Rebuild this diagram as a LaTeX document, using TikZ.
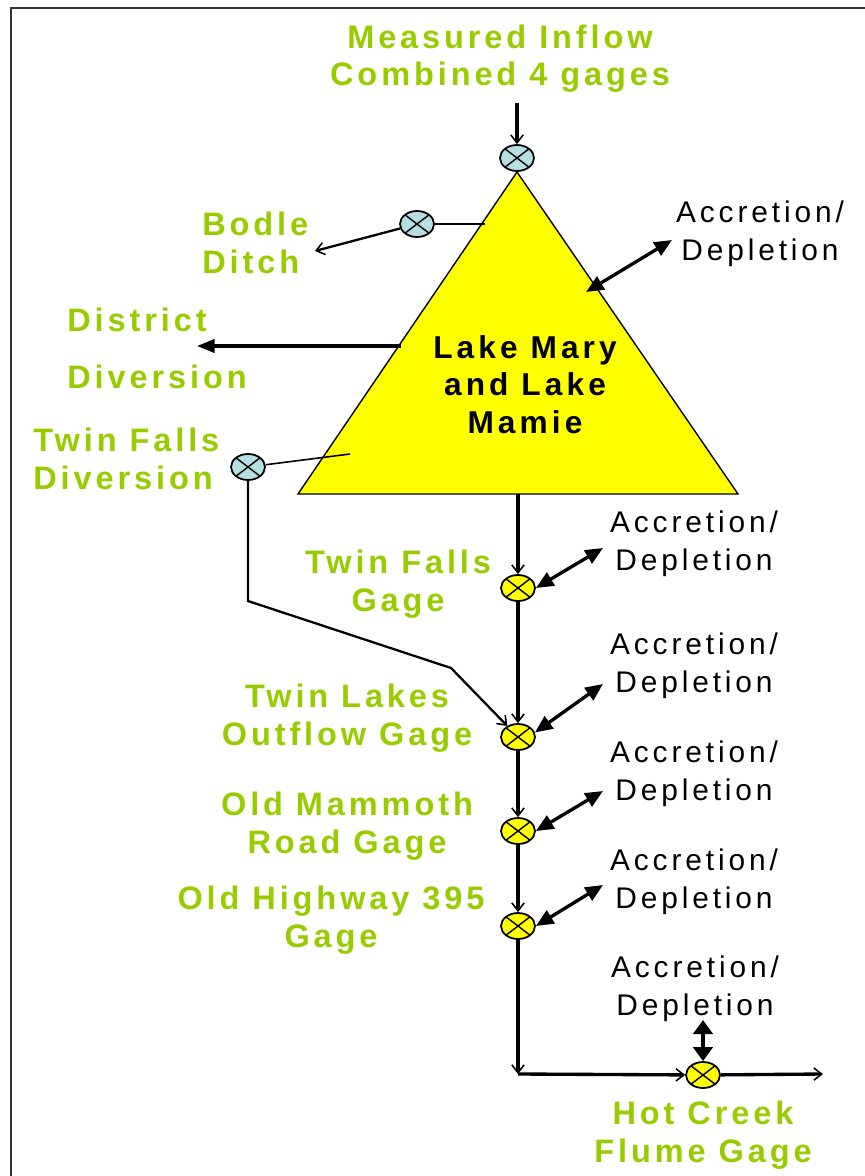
\documentclass[tikz,border=0pt]{standalone}
\usepackage{fontspec}
\setmainfont{Liberation Sans}
\newfontfamily\greenface[LetterSpace=12]{Liberation Sans}
\newfontfamily\plainface[LetterSpace=13]{Liberation Sans}
\usetikzlibrary{
arrows.meta,
shapes.geometric,
calc
}
\definecolor{labelgreen}{RGB}{153,204,0}
\definecolor{lakeyellow}{RGB}{255,255,0}
\definecolor{gageblue}{RGB}{183,222,226}

\begin{document}
\begin{tikzpicture}[
      x=0.02cm,y=-0.02cm,
      gage/.style={
        ellipse,
        draw,
        line width=1pt,
        minimum width=0.68cm,
        minimum height=0.52cm,
        inner sep=0pt,
        path picture={
          \draw[line width=0.8pt] (path picture bounding box.north west) -- (path picture bounding box.south east)
            (path picture bounding box.south west) -- (path picture bounding box.north east);
        }
      },
      greenlbl/.style={
        text=labelgreen,
        inner sep=0pt,
        align=center,
        font=\greenface\bfseries\fontsize{18.5}{21.6}\selectfont
      },
      accr/.style={
        inner sep=0pt,
        align=center,
        font=\plainface\fontsize{17}{21.6}\selectfont
      },
      flow/.style={
        -{Straight Barb[length=4.5pt,width=7pt,line width=0.9pt]},
        line width=1.9pt
      },
      thinflow/.style={
        -{Straight Barb[length=4.5pt,width=7pt,line width=0.9pt]},
        line width=1.3pt
      },
      exch/.style={
        {Triangle[length=10pt,width=8.5pt]}-{Triangle[length=10pt,width=8.5pt]},
        line width=1.9pt
      },
      tap/.style={
        line width=0.9pt
      }
    ]
    \useasboundingbox (0,0) rectangle (865,1176);
    \draw[line width=1.2pt,black!80] (11,1176) -- (11,8) -- (865,8);

    \draw[fill=lakeyellow,line width=0.8pt] (517,172) coordinate (apex) -- (738,494) coordinate (baseR) -- (298,494) coordinate (baseL) -- cycle;
    \node[inner sep=0pt,align=center,anchor=base,font=\plainface\bfseries\fontsize{18}{21.3}\selectfont] (lake) at (525,433) {Lake Mary\\and Lake\\Mamie};

    \node[greenlbl,anchor=base] (inflowlbl) at (500,86) {Measured Inflow\\Combined 4 gages};
    \node[gage,fill=gageblue] (inflow) at (517,158) {};
    \coordinate (inflowtop) at (517,103);
    \draw[flow] (inflowtop) -- (inflow);

    \node[gage,fill=gageblue] (bodle) at (417,224) {};
    \coordinate (bodletap) at (485,224);
    \coordinate (bodleend) at (315,251);
    \draw[tap] (bodle) -- (bodletap);
    \draw[thinflow] (bodle) -- (bodleend);
    \node[greenlbl,align=left,anchor=base west] (bodlelbl) at (202,273) {Bodle\\Ditch};

    \coordinate (disttap) at (401,346);
    \coordinate (distend) at (197,346);
    \draw[-{Triangle[length=10pt,width=7.5pt]},line width=1.9pt] (disttap) -- (distend);
    \node[greenlbl,align=left,anchor=base west] (distlbl) at (67,388) {District\\[10.8pt]Diversion};

    \node[gage,fill=gageblue] (tfdiv) at (248,467) {};
    \coordinate (tfdivtap) at (350,454);
    \draw[tap] (tfdiv) -- (tfdivtap);
    \node[greenlbl,align=left,anchor=base west] (tfdivlbl) at (33,489) {Twin Falls\\Diversion};

    \coordinate (accrend) at (586,292);
    \coordinate (accrout) at (672,240);
    \draw[exch] (accrend) -- (accrout);
    \node[accr,anchor=base] (accrlbl) at (760,260) {Accretion/\\Depletion};

    % river below the lakes
    \node[gage,fill=lakeyellow] (tfgage) at (518,588) {};
    \node[gage,fill=lakeyellow] (tlgage) at (518,737) {};
    \node[gage,fill=lakeyellow] (omgage) at (518,831) {};
    \node[gage,fill=lakeyellow] (ohgage) at (518,926) {};
    \node[gage,fill=lakeyellow] (hcgage) at (703,1075) {};
    \coordinate (lakeout) at (518,494);
    \coordinate (bend) at (518,1074);
    \coordinate (hcout) at (823,1074);

    \draw[flow] (lakeout) -- (tfgage);
    \draw[flow] (tfgage) -- (tlgage);
    \draw[flow] (tlgage) -- (omgage);
    \draw[flow] (omgage) -- (ohgage);
    \draw[flow] (ohgage) -- (bend);
    \draw[flow] (bend) -- (hcgage);
    \draw[flow] (hcgage) -- (hcout);

    \draw[thinflow] (tfdiv.south) -- (248,601) -- (451,668) -- (tlgage);

    \draw[exch] (tfgage.east) -- (603,548);
    \draw[exch] (tlgage.15) -- (603,684);
    \draw[exch] (omgage.east) -- (603,791);
    \draw[exch] (ohgage.east) -- (603,885);
    \draw[{Triangle[length=8pt,width=11pt]}-{Triangle[length=8pt,width=11pt]},line width=2.2pt] (hcgage.north) -- (703,1020);

    \node[accr,anchor=base] at (694,570) {Accretion/\\Depletion};
    \node[accr,anchor=base] at (694,692) {Accretion/\\Depletion};
    \node[accr,anchor=base] at (694,800) {Accretion/\\Depletion};
    \node[accr,anchor=base] at (694,908) {Accretion/\\Depletion};
    \node[accr,anchor=base] at (695,1015) {Accretion/\\Depletion};

    \node[greenlbl,anchor=base] (tflbl) at (398,611) {Twin Falls\\Gage};
    \node[greenlbl,anchor=base] (tllbl) at (347,745) {Twin Lakes\\Outflow Gage};
    \node[greenlbl,anchor=base] (omlbl) at (347,853) {Old Mammoth\\Road Gage};
    \node[greenlbl,anchor=base] (ohlbl) at (331,947) {Old Highway 395\\Gage};
    \node[greenlbl,anchor=base] (hclbl) at (703,1162) {Hot Creek\\Flume Gage};

  \end{tikzpicture}
\end{document}
